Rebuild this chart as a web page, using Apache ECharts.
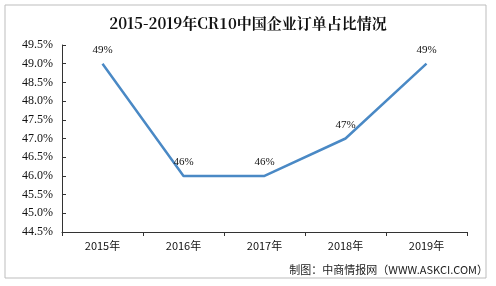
<!DOCTYPE html>
<html><head><meta charset="utf-8">
<script src="https://cdn.jsdelivr.net/npm/echarts@6/dist/echarts.min.js"></script>
<style>html,body{margin:0;padding:0;background:#fff}#c{width:496px;height:286px}</style>
</head><body><div id="c"></div>
<script>
const title = '2015-2019年CR10中国企业订单占比情况';
const source = '制图：中商情报网（WWW.ASKCI.COM）';
const categories = ['2015年','2016年','2017年','2018年','2019年'];
const values = [49, 46, 46, 47, 49];
const yMin = 44.5, yMax = 49.5, yStep = 0.5;

const chart = echarts.init(document.getElementById('c'), null, {renderer:'canvas'});
chart.setOption({
  animation:false,
  backgroundColor:'#fff',
  graphic:[
    {type:'rect', shape:{x:5,y:5,width:481,height:273}, style:{fill:'none',stroke:'#bdbdbd',lineWidth:1}},
    {type:'text', right:8, top:264, style:{text:source, font:'11px "Noto Sans CJK SC", sans-serif', fill:'#222'}}
  ],
  title:{text:title, left:'center', top:11,
    textStyle:{fontFamily:'"Noto Serif CJK SC","Noto Sans CJK SC",serif', fontSize:15, fontWeight:'bold', color:'#111'}},
  grid:{left:62, right:29, top:45, bottom:54, containLabel:false},
  xAxis:{type:'category', data:categories, boundaryGap:true,
    axisLine:{lineStyle:{color:'#333'}},
    axisTick:{show:true, length:4, lineStyle:{color:'#333'}},
    axisLabel:{color:'#111', fontSize:11, margin:8, fontFamily:'"Noto Sans CJK SC", sans-serif'}},
  yAxis:{type:'value', min:yMin, max:yMax, interval:yStep,
    axisLine:{show:true, lineStyle:{color:'#333'}},
    axisTick:{show:true, inside:true, length:4, lineStyle:{color:'#333'}},
    splitLine:{show:false},
    axisLabel:{color:'#111', fontSize:12, margin:9, fontFamily:'"Liberation Serif", serif',
      formatter:v=>v.toFixed(1)+'%'}},
  series:[{type:'line', data:values, symbol:'circle', symbolSize:0, showSymbol:true,
    itemStyle:{color:'rgba(0,0,0,0)', borderWidth:0},
    lineStyle:{color:'#4a89c5', width:2.5},
    label:{show:true, position:'top', distance:8, color:'#111', fontSize:11,
      fontFamily:'"Liberation Serif", serif', formatter:p=>p.value+'%'}}]
});
</script></body></html>
